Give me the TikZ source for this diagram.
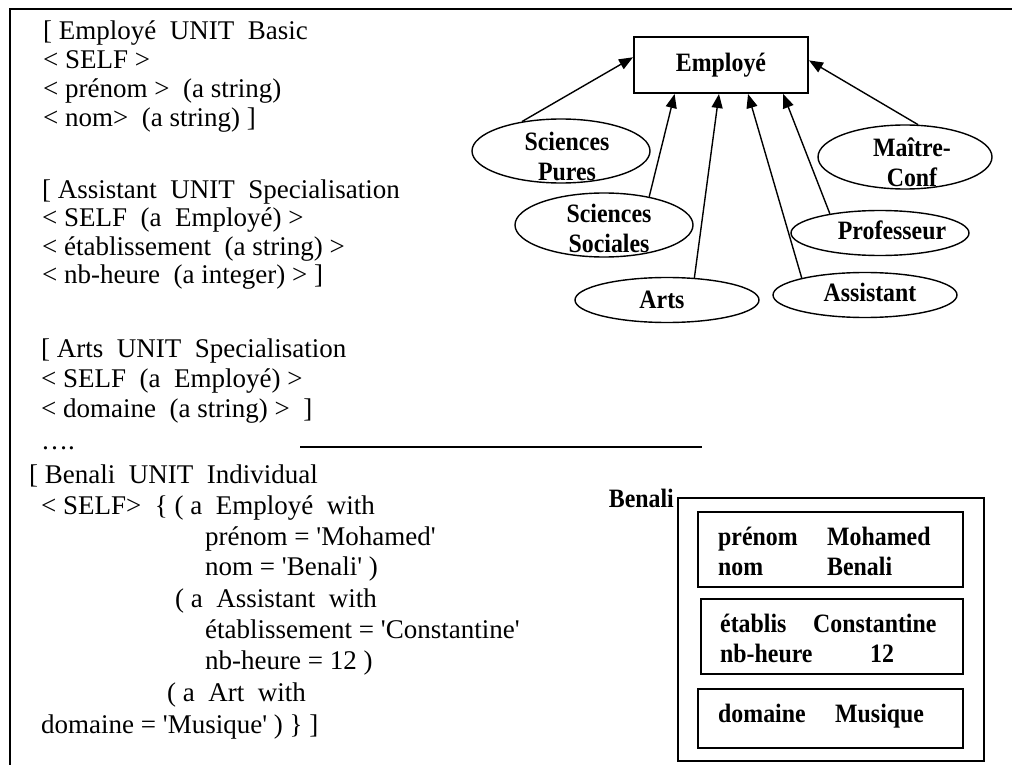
\documentclass[tikz,border=0pt]{standalone}
\usepackage{fontspec}
\setmainfont{Liberation Serif}
\newfontfamily\codefont{Liberation Serif}
\newfontfamily\labfont{Liberation Serif Bold}[FakeStretch=0.9]
\usetikzlibrary{shapes.geometric,arrows.meta}

\begin{document}
\begin{tikzpicture}[x=1pt,y=-1pt,
  code/.style={anchor=base west,inner sep=0pt,font=\codefont\fontsize{27}{30}\selectfont},
  lab/.style={inner sep=0pt,align=center,font=\labfont\fontsize{26.5}{30}\selectfont},
  val/.style={lab,anchor=base west},
  cls/.style={draw,ellipse,line width=1.4pt,inner sep=0pt},
  isa/.style={line width=1.4pt,-{Triangle[length=14pt,width=11pt]}},
  rule/.style={line width=2pt},
  slot/.style={draw,line width=2pt,inner sep=0pt,anchor=north west}]
\useasboundingbox (0,0) rectangle (1012,765);

% page frame (top and left edges only)
\draw[rule] (1012,9) -- (10,9) -- (10,765);

% ---- unit definitions ----
\node[code] (l1)  at (43,40)  {[ Employé~ UNIT~ Basic};
\node[code] (l2)  at (43,69)  {< SELF >};
\node[code] (l3)  at (43,98)  {< prénom >~ (a string)};
\node[code] (l4)  at (43,127) {< nom>~ (a string) ]};

\node[code] (l5)  at (42,198) {[ Assistant~ UNIT~ Specialisation};
\node[code] (l6)  at (42,226) {< SELF~ (a~ Employé) >};
\node[code] (l7)  at (42,255) {< établissement~ (a string) >};
\node[code] (l8)  at (42,283) {< nb-heure~ (a integer) > ]};

\node[code] (l9)  at (41,357) {[ Arts~ UNIT~ Specialisation};
\node[code] (l10) at (41,387) {< SELF~ (a~ Employé) >};
\node[code] (l11) at (41,417) {< domaine~ (a string) >~ ]};
\node[code] (l12) at (41,449) {….};

\node[code] (l13) at (29,483) {[ Benali~ UNIT~ Individual};
\node[code] (l14) at (41,514) {< SELF>~ \{ ( a~ Employé~ with};
\node[code] (l15) at (205,545) {prénom = 'Mohamed'};
\node[code] (l16) at (205,575) {nom = 'Benali' )};
\node[code] (l17) at (175,607) {( a~ Assistant~ with};
\node[code] (l18) at (205,638) {établissement = 'Constantine'};
\node[code] (l19) at (205,669) {nb-heure = 12 )};
\node[code] (l20) at (167,701) {( a~ Art~ with};
\node[code] (l21) at (41,733) {domaine = 'Musique' ) \} ]};

% separator
\coordinate (sepA) at (300,447);
\coordinate (sepB) at (702,447);
\draw[rule] (sepA) -- (sepB);

% ---- specialisation hierarchy ----
\node[draw,line width=2pt,minimum width=174,minimum height=56,lab] (emp) at (721,65) {Employé};

\node[cls,minimum width=178,minimum height=64] (pures) at (561,151) {};
\node[cls,minimum width=178,minimum height=64] (soc)   at (604,225) {};
\node[cls,minimum width=174,minimum height=64] (mc)    at (905,157) {};
\node[cls,minimum width=178,minimum height=45] (prof)  at (880,233) {};
\node[cls,minimum width=184,minimum height=45] (arts)  at (667,300) {};
\node[cls,minimum width=184,minimum height=45] (asst)  at (865,295) {};

\node[lab] (tpures) at (567,156) {Sciences\\Pures};
\node[lab] (tsoc)   at (609,228) {Sciences\\Sociales};
\node[lab] (tmc)    at (912,162) {Maître-\\Conf};
\node[lab] (tprof)  at (892,230) {Professeur};
\node[lab] (tarts)  at (662,300) {Arts};
\node[lab] (tasst)  at (870,292) {Assistant};

\draw[isa] (pures.143) -- (emp.175);
\draw[isa] (soc.32)    -- (emp.212.5);
\draw[isa] (arts.39)   -- (emp.266);
\draw[isa] (asst.165)  -- (emp.313);
\draw[isa] (prof.159)  -- (emp.335);
\draw[isa] (mc.68)     -- (emp.3);

% ---- the individual Benali ----
\node[lab,anchor=base east] (bname) at (674,507) {Benali};
\node[slot,minimum width=306,minimum height=263] (bx) at (677,497) {};
\node[slot,minimum width=265,minimum height=75] (s1) at (697,511) {};
\node[slot,minimum width=262,minimum height=75] (s2) at (700,598) {};
\node[slot,minimum width=265,minimum height=59] (s3) at (697,688) {};

\node[val] (k1) at (718,545) {prénom};
\node[val] (v1) at (827,545) {Mohamed};
\node[val] (k2) at (718,575) {nom};
\node[val] (v2) at (827,575) {Benali};
\node[val] (k3) at (720,632) {établis};
\node[val] (v3) at (813,632) {Constantine};
\node[val] (k4) at (720,662) {nb-heure};
\node[val] (v4) at (870,662) {12};
\node[val] (k5) at (718,722) {domaine};
\node[val] (v5) at (835,722) {Musique};
\end{tikzpicture}
\end{document}
